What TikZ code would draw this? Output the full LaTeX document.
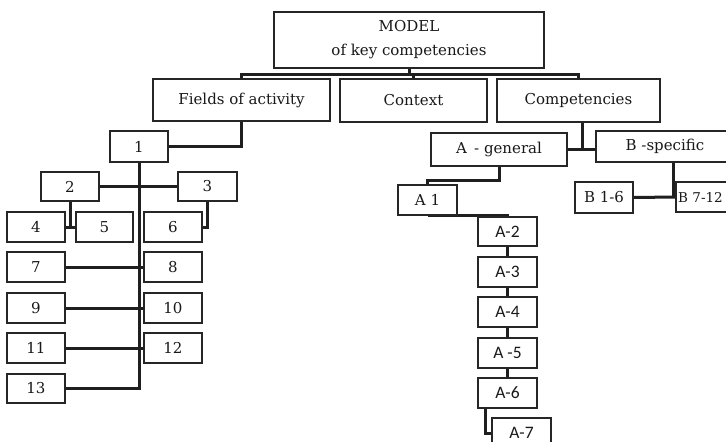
\documentclass[tikz,border=0pt]{standalone}
\usepackage{fontspec}
\setmainfont{DejaVu Serif}
\newfontfamily\carl{Carlito}
\usetikzlibrary{shadows}
\pgfdeclarelayer{bg}
\pgfsetlayers{bg,main}
\newcommand\bx[6]{\node[box,anchor=north west,minimum width={(#4-#2)*1pt},minimum height={(#5-#3)*1pt}] (#1) at (#2,#3) {#6};}
\begin{document}
\begin{tikzpicture}[x=1pt,y=-1pt,
  box/.style={draw=black!85,line width=1.2pt,fill=white,inner sep=0pt,outer sep=0pt,
    text=black!90,font=\fontsize{15}{24}\selectfont,align=center,
    drop shadow={shadow xshift=1.2pt,shadow yshift=-1.4pt,fill=black,opacity=0.25}},
  sbox/.style={box,font=\carl\fontsize{17.5}{20}\selectfont},
  conn/.style={line width=3pt,draw=black!88}]
\useasboundingbox (0,0) rectangle (726,442);
\clip (0,0) rectangle (726,442);
% top level
\bx{model}{274}{12}{544}{68}{MODEL\\of key competencies}
\bx{fields}{153}{79}{330}{121}{Fields of activity}
\bx{ctx}{340}{79}{487}{122}{Context}
\bx{comp}{497}{79}{660}{122}{Competencies}
% fields branch
\bx{n1}{110}{131}{168}{162}{1}
\bx{n2}{41}{172}{99}{201}{2}
\bx{n3}{178}{172}{237}{201}{3}
\bx{n4}{7}{212}{65}{242}{4}
\bx{n5}{76}{212}{133}{242}{5}
\bx{n6}{144}{212}{202}{242}{6}
\bx{n7}{7}{252}{65}{282}{7}
\bx{n8}{144}{252}{202}{282}{8}
\bx{n9}{7}{293}{65}{323}{9}
\bx{n10}{144}{293}{202}{323}{10}
\bx{n11}{7}{333}{65}{363}{11}
\bx{n12}{144}{333}{202}{363}{12}
\bx{n13}{7}{374}{65}{403}{13}
% competencies branch
\bx{ag}{431}{133}{567}{166}{A\ \,- general}
\bx{bs}{596}{131}{734}{162}{B -specific}
\bx{a1}{398}{185}{457}{215}{A 1}
\bx{b16}{575}{182}{633}{213}{B 1-6}
\node[box,anchor=north west,minimum width=60pt,minimum height=30pt,text width=58pt,align=left,font=\fontsize{13.5}{16}\selectfont] (b712) at (676,182) {\hspace*{1pt}B 7-12};
\node[sbox,anchor=north west,minimum width=59pt,minimum height=29pt] (a2) at (478,217) {A-2};
\node[sbox,anchor=north west,minimum width=59pt,minimum height=30pt] (a3) at (478,257) {A-3};
\node[sbox,anchor=north west,minimum width=59pt,minimum height=30pt] (a4) at (478,297) {A-4};
\node[sbox,anchor=north west,minimum width=59pt,minimum height=30pt] (a5) at (478,338) {A -5};
\node[sbox,anchor=north west,minimum width=59pt,minimum height=30pt] (a6) at (478,378) {A-6};
\node[sbox,anchor=north west,minimum width=59pt,minimum height=30pt] (a7) at (492,418) {A-7};
\begin{pgfonlayer}{bg}
\coordinate (bar) at (0,74);
\draw[conn] (model.south) -- (model.south |- bar);
\draw[conn] (fields.north) |- (bar -| comp.north) -- (comp.north);
\draw[conn] (ctx.north) -- (ctx.north |- bar);
\draw[conn] (fields.south) |- (n1.east);
\draw[conn] (n1.south) |- (n13.east);
\draw[conn] (n2.east) -- (n3.west);
\draw[conn] (n2.south) -- (n2.south |- n4.east);
\draw[conn] (n4.east) -- (n5.west);
\draw[conn] (n3.south) |- (n6.east);
\draw[conn] (n7.east) -- (n8.west);
\draw[conn] (n9.east) -- (n10.west);
\draw[conn] (n11.east) -- (n12.west);
\draw[conn] ([xshift=3.5pt]comp.south) -- ([xshift=3.5pt]comp.south |- ag.east);
\draw[conn] (ag.east) -- (ag.east -| bs.west);
\draw[conn] (ag.south) -- ++(0,14) -| (a1.north);
\draw[conn] (a1.south) -| (a2.north);
\draw[conn] (a2.south) -- (a3.north);
\draw[conn] (a3.south) -- (a4.north);
\draw[conn] (a4.south) -- (a5.north);
\draw[conn] (a5.south) -- (a6.north);
\draw[conn] ([xshift=7.5pt]a6.south west) |- (a7.west);
\draw[conn] ([xshift=8pt]bs.south) -- ([xshift=8pt]bs.south |- b16.east);
\draw[conn] (b16.east) -- (b712.west);
\end{pgfonlayer}
\end{tikzpicture}
\end{document}
